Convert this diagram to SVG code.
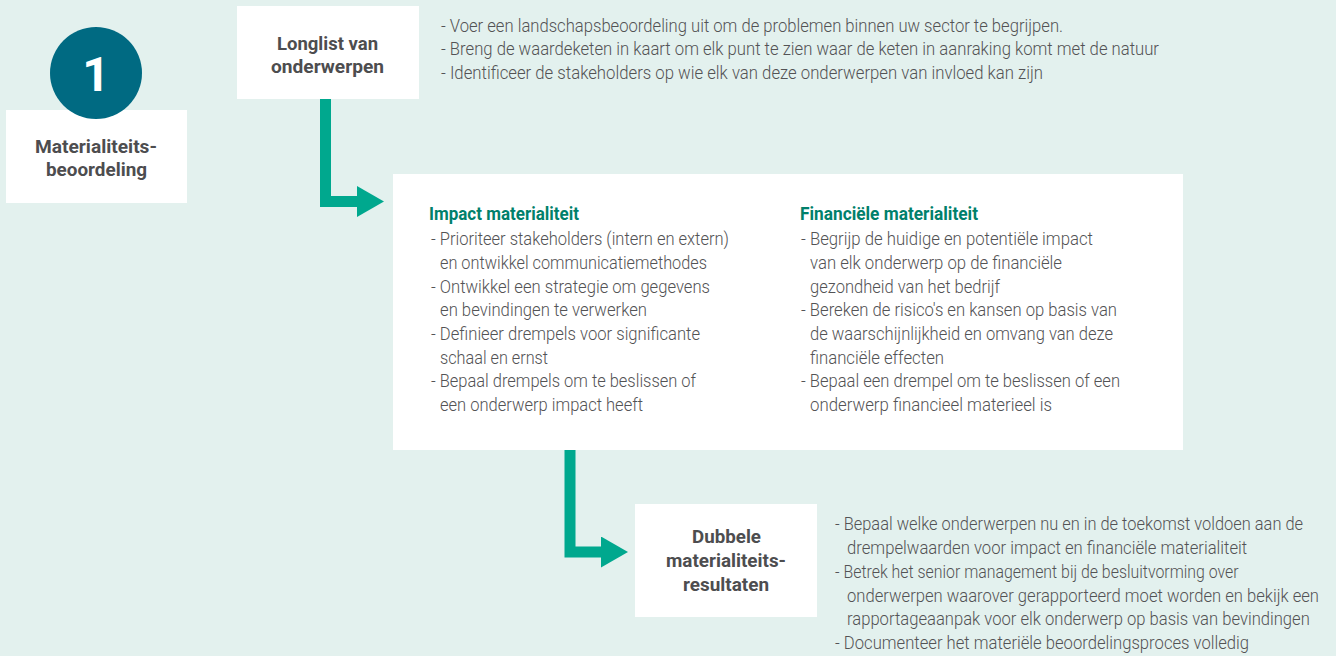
<svg xmlns="http://www.w3.org/2000/svg" width="1336" height="656" viewBox="0 0 1336 656">
<defs>
<style>
.bg{fill:#e3f1ee}
.box{fill:#ffffff}
.t{font-family:Roboto,"Liberation Sans",sans-serif;font-size:19px;font-weight:300;fill:#535355}
.h{font-family:Roboto,"Liberation Sans",sans-serif;font-size:19px;font-weight:700;fill:#4d4d4f}
.g{font-family:Roboto,"Liberation Sans",sans-serif;font-size:19px;font-weight:700;fill:#00806b}
.c{text-anchor:middle}
.conn{fill:none;stroke:#00a88e;stroke-width:11;stroke-linejoin:miter;stroke-linecap:butt}
</style>
<marker id="ah" markerUnits="userSpaceOnUse" markerWidth="27" markerHeight="31" refX="0" refY="15.5" orient="auto" viewBox="0 0 27 31">
<path d="M0,0 L27,15.5 L0,31 Z" fill="#00a88e"/>
</marker>
</defs>
<rect class="bg" x="0" y="0" width="1336" height="656"/>

<g id="connectors">
<path class="conn" d="M325.5,99 V201.5 H357" marker-end="url(#ah)"/>
<path class="conn" d="M570,450 V552 H601" marker-end="url(#ah)"/>
</g>

<g id="node-materialiteitsbeoordeling">
<rect class="box" x="6" y="110" width="181" height="93"/>
<circle cx="96" cy="73" r="46" fill="#006a82"/>
<text x="96" y="91" text-anchor="middle" font-family="Roboto,'Liberation Sans',sans-serif" font-size="48" font-weight="700" fill="#ffffff">1</text>
<text class="h c" x="96" y="153" textLength="122" lengthAdjust="spacingAndGlyphs">Materialiteits-</text>
<text class="h c" x="96.5" y="176" textLength="101" lengthAdjust="spacingAndGlyphs">beoordeling</text>
</g>

<g id="node-longlist">
<rect class="box" x="237" y="6" width="182" height="93"/>
<text class="h c" x="327.5" y="50" textLength="101" lengthAdjust="spacingAndGlyphs">Longlist van</text>
<text class="h c" x="327.5" y="73" textLength="113" lengthAdjust="spacingAndGlyphs">onderwerpen</text>
</g>

<g id="longlist-notes">
<text class="t" x="441" y="31.5" textLength="622" lengthAdjust="spacingAndGlyphs">- Voer een landschapsbeoordeling uit om de problemen binnen uw sector te begrijpen.</text>
<text class="t" x="441" y="55" textLength="718" lengthAdjust="spacingAndGlyphs">- Breng de waardeketen in kaart om elk punt te zien waar de keten in aanraking komt met de natuur</text>
<text class="t" x="441" y="78.5" textLength="602" lengthAdjust="spacingAndGlyphs">- Identificeer de stakeholders op wie elk van deze onderwerpen van invloed kan zijn</text>
</g>

<g id="node-materialiteit">
<rect class="box" x="393" y="174" width="790" height="276"/>
<text class="g" x="429" y="220" textLength="150" lengthAdjust="spacingAndGlyphs">Impact materialiteit</text>
<text class="t" x="431" y="245" textLength="298" lengthAdjust="spacingAndGlyphs">- Prioriteer stakeholders (intern en extern)</text>
<text class="t" x="440" y="269" textLength="267" lengthAdjust="spacingAndGlyphs">en ontwikkel communicatiemethodes</text>
<text class="t" x="431" y="292.5" textLength="279" lengthAdjust="spacingAndGlyphs">- Ontwikkel een strategie om gegevens</text>
<text class="t" x="440" y="316" textLength="207" lengthAdjust="spacingAndGlyphs">en bevindingen te verwerken</text>
<text class="t" x="431" y="340" textLength="269" lengthAdjust="spacingAndGlyphs">- Definieer drempels voor significante</text>
<text class="t" x="440" y="363.5" textLength="108" lengthAdjust="spacingAndGlyphs">schaal en ernst</text>
<text class="t" x="431" y="387" textLength="265" lengthAdjust="spacingAndGlyphs">- Bepaal drempels om te beslissen of</text>
<text class="t" x="440" y="411" textLength="203" lengthAdjust="spacingAndGlyphs">een onderwerp impact heeft</text>

<text class="g" x="800" y="220" textLength="178" lengthAdjust="spacingAndGlyphs">Financiële materialiteit</text>
<text class="t" x="801" y="245" textLength="292" lengthAdjust="spacingAndGlyphs">- Begrijp de huidige en potentiële impact</text>
<text class="t" x="810" y="269" textLength="252" lengthAdjust="spacingAndGlyphs">van elk onderwerp op de financiële</text>
<text class="t" x="810" y="292.5" textLength="190" lengthAdjust="spacingAndGlyphs">gezondheid van het bedrijf</text>
<text class="t" x="801" y="316" textLength="316" lengthAdjust="spacingAndGlyphs">- Bereken de risico's en kansen op basis van</text>
<text class="t" x="810" y="340" textLength="303" lengthAdjust="spacingAndGlyphs">de waarschijnlijkheid en omvang van deze</text>
<text class="t" x="810" y="363.5" textLength="134" lengthAdjust="spacingAndGlyphs">financiële effecten</text>
<text class="t" x="801" y="387" textLength="319" lengthAdjust="spacingAndGlyphs">- Bepaal een drempel om te beslissen of een</text>
<text class="t" x="810" y="411" textLength="242" lengthAdjust="spacingAndGlyphs">onderwerp financieel materieel is</text>
</g>

<g id="node-dubbele">
<rect class="box" x="635" y="504" width="182" height="113"/>
<text class="h c" x="726.5" y="543" textLength="69" lengthAdjust="spacingAndGlyphs">Dubbele</text>
<text class="h c" x="726" y="567" textLength="120" lengthAdjust="spacingAndGlyphs">materialiteits-</text>
<text class="h c" x="726" y="591" textLength="86" lengthAdjust="spacingAndGlyphs">resultaten</text>
</g>

<g id="dubbele-notes" transform="translate(835,0) scale(0.87,1)">
<text class="t" x="0" y="530" textLength="538" lengthAdjust="spacingAndGlyphs">- Bepaal welke onderwerpen nu en in de toekomst voldoen aan de</text>
<text class="t" x="13.8" y="554" textLength="460" lengthAdjust="spacingAndGlyphs">drempelwaarden voor impact en financiële materialiteit</text>
<text class="t" x="0" y="578" textLength="464" lengthAdjust="spacingAndGlyphs">- Betrek het senior management bij de besluitvorming over</text>
<text class="t" x="13.8" y="602" textLength="542.5" lengthAdjust="spacingAndGlyphs">onderwerpen waarover gerapporteerd moet worden en bekijk een</text>
<text class="t" x="13.8" y="625.5" textLength="532" lengthAdjust="spacingAndGlyphs">rapportageaanpak voor elk onderwerp op basis van bevindingen</text>
<text class="t" x="0" y="649" textLength="476" lengthAdjust="spacingAndGlyphs">- Documenteer het materiële beoordelingsproces volledig</text>
</g>
</svg>
